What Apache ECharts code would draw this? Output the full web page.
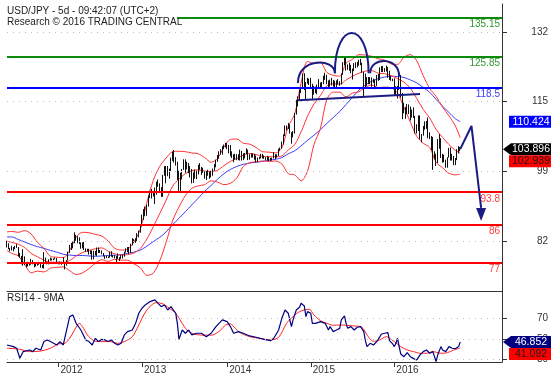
<!DOCTYPE html>
<html><head><meta charset="utf-8">
<script src="https://cdn.jsdelivr.net/npm/echarts@6/dist/echarts.min.js"></script>
<style>html,body{margin:0;padding:0;background:#fff}#c{width:558px;height:378px}</style>
</head><body><div id="c"></div>
<script>
// ---- weekly OHLC [open, high, low, close] ----
const ohlc2011 = [[81.7,82.2,80.6,80.8],[80.8,81.6,80.2,80.4],[80.4,80.5,79.7,80.2],[80.2,81.0,79.9,80.0],[80.0,80.7,79.7,80.4],[80.4,81.0,80.2,80.8],[80.8,81.4,80.5,80.6],[80.6,80.7,78.5,79.1],[79.1,79.3,78.2,78.4],[78.4,78.6,76.6,76.8],[76.8,80.2,76.3,78.4],[78.4,78.5,76.4,76.9],[76.9,77.0,75.9,76.5],[76.5,77.2,76.1,76.6],[76.6,77.1,76.3,76.8],[76.8,77.9,76.5,77.6],[77.6,77.6,76.6,76.8],[76.8,76.9,75.9,76.5],[76.5,77.1,76.1,77.0],[77.0,77.1,76.3,76.7],[76.7,77.2,76.5,76.9],[76.9,77.0,75.8,76.1],[76.1,76.5,75.7,75.8],[75.8,79.5,75.6,78.0],[78.0,78.2,77.0,77.0],[77.0,77.2,76.6,76.9],[76.9,77.8,76.6,77.7],[77.7,78.2,77.5,77.9],[77.9,78.0,77.5,77.7],[77.7,78.0,77.6,77.8],[77.8,78.2,77.8,78.1],[78.1,78.1,76.9,76.9]];
const ohlc2012 = [[76.9,77.2,76.6,76.8],[76.8,77.3,76.6,76.9],[76.9,77.2,76.5,76.9],[76.9,78.3,76.7,77.0],[77.0,77.0,75.4,76.6],[76.6,77.6,76.3,77.6],[77.6,79.6,77.5,79.5],[79.5,81.2,79.3,81.2],[81.2,81.7,80.0,81.1],[81.1,82.0,80.4,81.8],[81.8,84.2,81.6,83.4],[83.4,83.6,82.2,82.4],[82.4,83.3,81.6,82.9],[82.9,83.0,81.4,81.5],[81.5,81.8,80.3,80.9],[80.9,81.8,80.4,81.6],[81.6,81.9,80.0,80.3],[80.3,80.4,79.6,79.8],[79.8,80.3,79.6,79.9],[79.9,80.3,78.9,79.1],[79.1,79.9,79.0,79.6],[79.6,79.9,77.7,78.2],[78.2,79.8,77.8,79.6],[79.6,79.8,78.7,78.7],[78.7,80.6,78.6,80.4],[80.4,80.6,79.3,79.8],[79.8,80.0,79.3,79.6],[79.6,79.9,79.0,79.1],[79.1,79.3,78.5,78.5],[78.5,78.7,77.9,78.4],[78.4,78.6,78.1,78.3],[78.3,78.5,78.1,78.3],[78.3,79.6,78.2,79.5],[79.5,79.7,78.4,78.7],[78.7,78.8,78.2,78.3],[78.3,78.8,78.0,78.2],[78.2,78.6,77.1,78.4],[78.4,79.2,77.9,78.2],[78.2,78.3,77.4,77.9],[77.9,78.8,77.9,78.7],[78.7,78.9,78.0,78.7],[78.7,79.6,78.4,79.5],[79.5,80.4,79.4,79.9],[79.9,80.7,79.5,80.4],[80.4,80.7,79.1,79.5],[79.5,81.5,79.3,81.3],[81.3,82.8,81.1,82.4],[82.4,82.6,81.7,82.5],[82.5,82.8,81.7,82.4],[82.4,84.0,82.1,83.5],[83.5,84.6,83.0,84.2],[84.2,86.1,84.1,85.9],[85.9,88.4,85.6,88.1]];
const ohlc2013 = [[88.1,89.7,87.1,89.2],[89.2,90.3,88.0,90.1],[90.1,90.7,88.1,90.8],[90.8,92.9,90.3,92.7],[92.7,94.1,92.3,92.7],[92.7,94.5,92.2,93.5],[93.5,94.0,92.7,93.4],[93.4,94.8,90.9,93.6],[93.6,96.2,93.1,96.0],[96.0,96.7,95.0,95.3],[95.3,95.8,93.9,94.5],[94.5,94.9,92.6,94.2],[94.2,97.8,92.6,97.6],[97.6,99.9,97.6,98.4],[98.4,99.9,95.8,99.5],[99.5,99.9,97.5,98.0],[98.0,99.3,96.9,99.0],[99.0,101.9,98.7,101.6],[101.6,103.3,101.1,103.2],[103.2,103.7,100.7,101.0],[101.0,102.0,100.0,100.5],[100.5,100.9,96.6,97.5],[97.5,98.8,93.8,94.1],[94.1,98.3,93.9,97.9],[97.9,99.2,96.7,99.1],[99.1,101.5,99.0,101.2],[101.2,101.5,98.3,99.2],[99.2,100.9,99.1,100.6],[100.6,100.6,98.2,98.3],[98.3,99.9,97.2,98.9],[98.9,99.2,95.8,96.2],[96.2,98.4,95.9,97.5],[97.5,99.1,96.9,98.7],[98.7,98.8,96.8,98.1],[98.1,100.2,97.9,99.8],[99.8,100.6,99.0,99.4],[99.4,99.7,97.8,99.4],[99.4,99.5,98.3,98.3],[98.3,98.6,96.9,97.5],[97.5,98.7,96.6,98.6],[98.6,99.0,97.6,97.7],[97.7,98.5,96.9,97.4],[97.4,98.8,97.2,98.8],[98.8,99.3,97.6,99.1],[99.1,100.4,98.8,100.0],[100.0,101.4,99.6,101.3],[101.3,102.5,100.9,102.4],[102.4,103.4,101.6,102.9],[102.9,103.9,102.6,103.2],[103.2,104.6,102.6,104.1],[104.1,105.0,103.9,104.8],[104.8,105.4,104.3,104.9]];
const ohlc2014 = [[104.9,105.4,103.9,104.2],[104.2,104.9,102.9,104.3],[104.3,104.9,102.2,102.3],[102.3,103.4,101.8,102.0],[102.0,102.7,100.8,102.3],[102.3,102.8,101.4,101.8],[101.8,102.7,101.3,102.5],[102.5,102.7,101.3,101.8],[101.8,103.8,101.2,103.3],[103.3,103.5,101.2,101.3],[101.3,102.9,101.3,102.3],[102.3,103.0,101.7,102.8],[102.8,104.1,102.7,103.3],[103.3,103.8,101.3,101.6],[101.6,102.7,101.4,102.4],[102.4,102.9,101.9,102.2],[102.2,102.9,101.9,102.6],[102.6,102.8,101.4,101.8],[101.8,102.4,100.8,101.5],[101.5,101.9,100.8,102.0],[102.0,102.1,101.5,101.8],[101.8,102.8,101.7,102.5],[102.5,102.8,101.7,102.0],[102.0,102.4,101.6,102.0],[102.0,102.0,101.3,101.4],[101.4,102.3,101.2,102.1],[102.1,102.1,101.1,101.3],[101.3,101.8,101.1,101.3],[101.3,101.9,101.2,101.8],[101.8,103.2,101.7,102.6],[102.6,102.7,101.5,102.0],[102.0,102.7,101.9,102.4],[102.4,104.0,102.3,103.8],[103.8,104.3,103.5,104.1],[104.1,105.7,104.0,105.1],[105.1,107.4,105.0,107.3],[107.3,109.5,107.0,109.0],[109.0,109.5,108.3,109.3],[109.3,110.1,108.7,109.7],[109.7,109.8,107.6,107.6],[107.6,107.9,105.2,106.9],[106.9,108.2,106.7,108.1],[108.1,112.5,107.6,112.3],[112.3,115.6,112.1,114.6],[114.6,116.4,114.0,116.3],[116.3,118.0,115.5,117.8],[117.8,118.6,117.2,118.6],[118.6,121.8,118.4,121.4],[121.4,121.9,117.9,118.8],[118.8,119.8,115.6,119.5],[119.5,120.8,119.4,120.5],[120.5,120.6,119.1,120.4]];
const ohlc2015 = [[120.4,120.8,118.3,118.6],[118.6,119.4,115.8,117.5],[117.5,118.9,116.8,117.7],[117.7,118.7,117.2,117.5],[117.5,119.2,116.9,119.1],[119.1,120.5,118.3,118.7],[118.7,119.7,118.2,119.0],[119.0,119.8,118.5,119.6],[119.6,121.3,119.3,120.8],[120.8,122.0,120.3,121.4],[121.4,121.5,119.3,120.0],[120.0,120.2,118.3,119.2],[119.2,120.4,118.7,119.1],[119.1,120.8,119.0,120.2],[120.2,120.3,118.7,118.9],[118.9,120.1,118.6,119.0],[119.0,120.2,118.5,120.2],[120.2,120.5,119.2,119.8],[119.8,120.0,118.9,119.4],[119.4,121.8,119.2,121.5],[121.5,124.5,121.5,124.1],[124.1,125.9,123.8,125.6],[125.6,125.7,122.5,123.4],[123.4,124.0,122.7,122.7],[122.7,124.4,122.5,123.9],[123.9,123.9,121.9,122.8],[122.8,123.0,120.4,122.7],[122.7,124.3,122.4,124.0],[124.0,124.5,123.1,123.8],[123.8,124.6,123.3,123.9],[123.9,125.1,123.7,124.2],[124.2,125.3,123.8,124.3],[124.3,124.4,122.0,122.0],[122.0,122.2,116.2,121.7],[121.7,121.8,118.6,119.0],[119.0,121.0,118.9,120.6],[120.6,121.0,119.3,120.0],[120.0,121.0,119.3,120.6],[120.6,120.9,118.7,119.9],[119.9,120.6,119.6,120.2],[120.2,120.4,118.1,119.0],[119.0,121.5,118.9,121.4],[121.4,121.7,120.1,120.6],[120.6,123.3,120.3,123.2],[123.2,123.6,122.2,122.6],[122.6,123.6,122.2,122.8],[122.8,123.1,122.2,122.8],[122.8,123.7,122.3,123.1],[123.1,123.4,120.8,120.9],[120.9,122.5,120.3,121.2],[121.2,121.3,120.1,120.3],[120.3,120.6,120.0,120.2]];
const ohlc2016 = [[120.2,120.7,116.7,117.2],[117.2,118.8,116.5,117.0],[117.0,118.9,115.9,118.8],[118.8,121.7,117.9,121.1],[121.1,121.5,116.1,116.8],[116.8,117.2,111.0,113.2],[113.2,114.9,112.4,112.6],[112.6,113.9,111.1,113.9],[113.9,114.6,112.2,113.8],[113.8,114.5,112.2,113.8],[113.8,114.0,110.7,111.5],[111.5,113.3,111.4,113.0],[113.0,113.8,111.3,111.6],[111.6,111.8,107.6,108.1],[108.1,109.8,107.6,108.8],[108.8,111.9,108.2,111.8],[111.8,111.9,106.2,106.3],[106.3,107.5,105.5,107.1],[107.1,109.4,107.1,108.6],[108.6,110.5,108.5,110.2],[110.2,110.6,108.7,110.2],[110.2,111.4,106.5,106.5],[106.5,107.9,106.3,107.0],[107.0,107.0,103.6,104.2],[104.2,106.8,99.0,102.2],[102.2,103.4,101.5,102.5],[102.5,102.8,99.9,100.6],[100.6,106.3,100.6,104.9],[104.9,107.5,104.0,106.1],[106.1,106.5,101.8,102.0],[102.0,102.8,100.7,101.8],[101.8,102.6,100.8,101.3],[101.3,101.4,99.5,100.2],[100.2,102.0,99.5,101.9],[101.9,104.2,101.9,104.0],[104.0,104.3,101.2,102.6],[102.6,102.8,101.2,102.2],[102.2,102.3,100.1,101.0],[101.0,101.8,100.1,101.3],[101.3,103.9,101.3,102.9],[102.9,104.6,102.9,104.2],[104.2,104.4,103.4,103.896]];

// ---- indicator lines, [weekIndex, value] ----
const sma20 = [[0,82.1],[3,81.8],[7,81.4],[11,80.6],[15,79.2],[19,78.4],[23,77.6],[27,77.1],[31,77.1],[35,77.1],[39,77.5],[43,78.6],[47,79.4],[51,79.9],[55,80.3],[59,80.5],[63,79.7],[67,79.1],[71,78.8],[75,78.9],[79,79.3],[83,80.4],[87,82.6],[91,85.5],[95,88.6],[99,91.8],[103,95.1],[107,96.8],[111,98.1],[115,98.8],[119,99.0],[123,98.7],[127,98.6],[131,98.9],[135,100.0],[139,101.0],[143,101.7],[147,102.5],[151,102.9],[155,102.6],[159,102.2],[163,102.1],[167,102.1],[171,102.3],[175,103.7],[179,105.0],[183,108.0],[187,111.7],[191,114.6],[195,116.6],[199,118.9],[203,119.4],[207,119.3],[211,120.3],[215,121.2],[219,121.9],[223,122.4],[227,122.5],[231,121.9],[235,121.8],[239,121.3],[243,120.6],[247,119.8],[251,118.3],[255,115.9],[259,113.3],[263,111.3],[267,108.6],[271,106.7],[275,105.0],[279,103.6],[282,102.939]];
const bbUpper = [[0,84.3],[3,84.4],[7,84.2],[11,84.6],[15,83.8],[19,81.8],[23,80.4],[27,78.5],[31,78.3],[35,78.2],[39,79.9],[43,83.0],[47,84.2],[51,84.1],[55,83.7],[59,83.3],[63,82.1],[67,80.4],[71,80.0],[75,80.2],[79,81.9],[83,85.0],[87,91.2],[91,96.5],[95,99.8],[99,101.8],[103,103.3],[107,103.4],[111,103.3],[115,103.0],[119,102.8],[123,101.9],[127,100.8],[131,101.7],[135,104.4],[139,106.2],[143,106.3],[147,105.3],[151,105.1],[155,104.3],[159,103.3],[163,103.2],[167,103.0],[171,104.2],[175,109.3],[179,112.2],[183,119.6],[187,124.7],[191,124.2],[195,124.4],[199,122.1],[203,121.4],[207,121.2],[211,124.3],[215,125.2],[219,126.3],[223,126.2],[227,125.9],[231,125.3],[235,125.0],[239,124.1],[243,124.0],[247,125.7],[251,126.3],[255,124.8],[259,121.3],[263,118.3],[267,116.4],[271,113.9],[275,111.8],[279,109.4],[282,106.6]];
const bbLower = [[0,79.9],[3,79.2],[7,78.6],[11,76.6],[15,74.6],[19,75.0],[23,74.8],[27,75.7],[31,75.9],[35,76.0],[39,75.1],[43,74.2],[47,74.6],[51,75.6],[55,76.9],[59,77.7],[63,77.3],[67,77.8],[71,77.6],[75,77.6],[79,76.7],[83,75.8],[87,74.0],[91,74.5],[95,77.4],[99,81.8],[103,86.9],[107,90.2],[111,92.9],[115,94.6],[119,95.2],[123,95.5],[127,96.4],[131,96.1],[135,95.5],[139,95.8],[143,97.1],[147,99.8],[151,100.7],[155,100.9],[159,101.1],[163,101.0],[167,101.1],[171,100.4],[175,98.1],[179,97.8],[183,96.4],[187,98.7],[191,105.0],[195,108.8],[199,115.7],[203,117.4],[207,117.4],[211,116.3],[215,117.2],[219,117.5],[223,118.6],[227,119.1],[231,118.5],[235,118.6],[239,118.5],[243,117.2],[247,113.8],[251,110.3],[255,106.9],[259,105.3],[263,104.3],[267,100.8],[271,99.5],[275,98.2],[279,97.8],[282,98.0]];
const sma50 = [[0,83.1],[3,83.1],[7,82.5],[11,81.9],[15,81.3],[19,80.8],[23,80.4],[27,79.9],[31,79.5],[35,79.0],[39,78.8],[43,78.7],[47,78.7],[51,78.6],[55,78.5],[59,78.6],[63,78.7],[67,78.8],[71,78.9],[75,79.2],[79,79.5],[83,80.0],[87,80.9],[91,82.0],[95,83.0],[99,84.3],[103,86.0],[107,87.5],[111,89.1],[115,90.7],[119,92.3],[123,93.9],[127,95.3],[131,96.8],[135,98.1],[139,99.1],[143,99.8],[147,100.3],[151,100.6],[155,100.8],[159,101.0],[163,101.3],[167,101.5],[171,101.9],[175,102.8],[179,103.5],[183,104.7],[187,106.0],[191,107.2],[195,108.5],[199,110.0],[203,111.4],[207,112.8],[211,114.5],[215,116.2],[219,117.9],[223,119.1],[227,120.0],[231,120.6],[235,121.0],[239,121.2],[243,121.1],[247,120.9],[251,120.3],[255,119.6],[259,118.5],[263,117.4],[267,115.7],[271,114.1],[275,112.6],[279,111.1],[282,110.424]];
const rsi14 = [[0,44.0],[4,42.4],[6,40.8],[8,31.0],[10,37.5],[14,39.1],[16,37.5],[18,40.8],[21,39.1],[23,47.3],[25,48.9],[27,47.3],[29,45.6],[31,44.0],[33,47.3],[35,44.0],[36,45.6],[39,71.6],[41,73.2],[43,65.1],[46,58.6],[49,48.9],[51,47.3],[53,44.0],[55,50.5],[57,47.3],[59,49.5],[61,48.9],[63,47.3],[65,48.9],[67,45.6],[69,44.0],[71,45.6],[73,53.8],[75,57.0],[78,58.6],[80,65.1],[82,74.9],[84,79.8],[86,83.0],[89,86.3],[92,87.9],[94,84.6],[96,81.4],[98,83.0],[100,78.1],[102,81.4],[105,74.9],[106,65.1],[107,49.5],[109,58.6],[111,55.4],[113,58.6],[115,53.8],[118,55.4],[121,55.4],[124,52.1],[127,55.4],[130,61.9],[134,68.4],[137,66.7],[139,61.9],[141,55.4],[144,57.0],[147,55.4],[151,52.8],[155,51.5],[160,49.5],[164,48.2],[166,50.5],[169,58.6],[171,70.0],[173,78.1],[175,74.9],[177,61.9],[178,68.4],[180,78.1],[182,80.7],[183,84.6],[185,82.0],[186,71.6],[187,76.5],[189,74.9],[190,65.1],[192,65.1],[195,66.7],[198,65.1],[200,58.6],[201,61.9],[203,57.0],[205,58.6],[207,60.2],[208,68.4],[210,72.3],[211,65.1],[212,60.2],[214,61.9],[216,58.6],[218,61.3],[220,61.9],[222,57.0],[223,48.2],[224,42.4],[226,45.6],[228,44.0],[230,47.3],[231,49.5],[233,54.7],[235,55.4],[237,56.0],[238,48.2],[240,45.0],[241,42.4],[242,45.6],[243,50.5],[244,42.4],[245,35.2],[247,32.6],[249,36.5],[251,32.6],[253,30.7],[255,29.4],[257,34.3],[259,37.5],[261,39.1],[263,35.9],[265,37.5],[267,27.7],[268,34.3],[270,42.4],[271,39.1],[273,37.5],[275,42.4],[277,40.8],[279,40.4],[281,42.4],[282,46.852]];
const rsiMa9 = [[0,40.8],[8,39.8],[14,37.5],[21,38.1],[27,40.8],[32,45.0],[36,45.6],[39,50.5],[42,58.6],[45,65.1],[47,61.9],[50,53.8],[54,48.2],[58,47.3],[64,47.3],[69,45.6],[73,47.3],[78,52.1],[81,60.2],[84,70.0],[87,78.1],[90,83.0],[93,85.3],[97,84.0],[101,79.8],[105,74.9],[109,65.1],[112,58.6],[116,54.7],[120,53.8],[124,53.5],[128,53.8],[133,58.6],[136,63.5],[139,64.5],[142,60.2],[145,56.0],[151,52.1],[157,50.5],[164,48.9],[169,51.5],[174,65.1],[178,71.6],[182,76.5],[188,78.8],[191,73.2],[195,67.7],[199,65.1],[203,63.2],[207,63.5],[211,63.2],[216,62.5],[220,61.9],[222,59.3],[224,53.8],[228,47.6],[232,48.9],[236,52.1],[238,50.5],[241,47.3],[245,42.4],[249,39.1],[253,37.5],[257,35.9],[261,35.9],[265,37.5],[270,35.9],[274,36.5],[278,39.1],[282,41.092]];

// ---- levels, ticks, annotations ----
const levels = [
  {value:135.15, label:'135.15', line:'#0b8a0b', text:'#2f9a2f', startWeek:106},
  {value:125.85, label:'125.85', line:'#0b8a0b', text:'#2f9a2f'},
  {value:118.5,  label:'118.5',  line:'#0000ff', text:'#3c3cff'},
  {value:93.8,   label:'93.8',   line:'#ff0000', text:'#ff4040'},
  {value:86,     label:'86',     line:'#ff0000', text:'#ff4040'},
  {value:77,     label:'77',     line:'#ff0000', text:'#ff4040'}
];
const priceTicks = [82.17, 98.67, 115.17, 131.67];
const rsiTicks = [30, 50, 70];
const yearTicks = [[32,'2012'],[84,'2013'],[137,'2014'],[189,'2015'],[241,'2016']];
const neckline = [[181,115.5],[257,117.0]];
const hsArcs = [[181,119.6,204,121.9,124.4],[204,121.9,225,121.9,131.4],[226,121.9,244,121.2,124.8]];
const projection = [[282,103.896],[289,109.4],[295,90.0]];
const arrowTip = [295, 88.4];
const priceTags = [
  {panel:0, value:110.424, text:'110.424', bg:'#0000ff', fg:'#ffffff', arrow:false},
  {panel:0, value:103.896, text:'103.896', bg:'#000000', fg:'#ffffff', arrow:true},
  {panel:0, value:102.939, text:'102.939', bg:'#ff0000', fg:'#1a1a1a', arrow:false},
  {panel:1, value:46.852, text:'46.852', bg:'#000080', fg:'#ffffff', arrow:true},
  {panel:1, value:41.092, text:'41.092', bg:'#ff0000', fg:'#1a1a1a', arrow:false}
];

const weekCount = 309;
const categories = Array.from({length: weekCount}, (_, i) => String(i));
const yearMap = {}; yearTicks.forEach(t => { yearMap[String(t[0])] = t[1]; });
const isYear = (i) => yearMap[String(i)] !== undefined;
const ohlc = [].concat(ohlc2011, ohlc2012, ohlc2013, ohlc2014, ohlc2015, ohlc2016);
const candleData = ohlc.map(r => [r[0], r[3], r[2], r[1]]);
const FONT = 'Liberation Sans, Arial, sans-serif';
const NAVY = '#1b1b84';
const AX = '#333333';

const chart = echarts.init(document.getElementById('c'), null, {renderer:'canvas'});

const levelLines = levels.map(l => {
  const lab = {show:true, formatter:l.label, position:'insideEndBottom', color:l.text, fontSize:10, fontFamily:FONT, distance:[2,2]};
  const ls = {color:l.line, width:2, type:'solid'};
  if (l.startWeek !== undefined) {
    return [{coord:[l.startWeek, l.value], lineStyle:ls, label:lab}, {coord:[weekCount-1, l.value]}];
  }
  return {yAxis:l.value, lineStyle:ls, label:lab};
});

function line(name, data, color, width, xi, yi, smooth, z, extra) {
  return Object.assign({type:'line', name, data, xAxisIndex:xi, yAxisIndex:yi, symbol:'none', showSymbol:false,
    smooth:smooth, lineStyle:{color, width}, itemStyle:{color}, silent:true, z:z, animation:false}, extra || {});
}

const option = {
  animation:false,
  textStyle:{fontFamily:FONT},
  grid:[{left:7, right:56, top:4, height:287}, {left:7, right:56, top:291, height:71}],
  xAxis:[
    {type:'category', gridIndex:0, data:categories, boundaryGap:false, show:false},
    {type:'category', gridIndex:1, data:categories, boundaryGap:false, position:'bottom',
      axisLine:{show:true, lineStyle:{color:AX, width:1}},
      axisTick:{show:true, interval:(i)=>isYear(i), length:5, lineStyle:{color:AX}},
      axisLabel:{show:true, interval:(i)=>isYear(i), formatter:(v)=>yearMap[v]||'', align:'left', margin:3, padding:[0,0,0,2], fontSize:10, color:AX, fontFamily:FONT},
      splitLine:{show:false}},
    {type:'category', gridIndex:1, data:categories, boundaryGap:false, position:'top',
      axisLine:{show:true, lineStyle:{color:AX, width:1}}, axisTick:{show:false}, axisLabel:{show:false}, splitLine:{show:false}}
  ],
  yAxis:[
    {type:'value', gridIndex:0, position:'right', min:70.29, max:138.30,
      axisLine:{show:true, lineStyle:{color:AX}},
      axisTick:{show:true, length:5, customValues:priceTicks, lineStyle:{color:AX}},
      axisLabel:{show:true, customValues:priceTicks, formatter:(v)=>String(Math.round(v)), align:'right', margin:46, fontSize:10, color:AX, fontFamily:FONT},
      splitLine:{show:false}},
    {type:'value', gridIndex:1, position:'right', min:27.4, max:96.6,
      axisLine:{show:true, lineStyle:{color:AX}},
      axisTick:{show:true, length:5, customValues:rsiTicks, lineStyle:{color:AX}},
      axisLabel:{show:true, customValues:rsiTicks, formatter:(v)=>String(Math.round(v)), align:'right', margin:46, fontSize:10, color:AX, fontFamily:FONT},
      splitLine:{show:false}}
  ],
  series:[
    line('SMA50', sma50, '#3b3bff', 1, 0, 0, 0.3, 2, {
      markLine:{silent:true, symbol:['none','none'], animation:false, label:{show:false},
        lineStyle:{color:'#bdbdbd', width:1, type:[1,5]},
        data: priceTicks.map(v => ({yAxis:v}))}
    }),
    line('BB upper', bbUpper, '#ff3030', 1, 0, 0, 0.3, 3),
    line('BB lower', bbLower, '#ff3030', 1, 0, 0, 0.3, 3),
    line('SMA20', sma20, '#ff3030', 1, 0, 0, 0.3, 3),
    {type:'candlestick', name:'USD/JPY', xAxisIndex:0, yAxisIndex:0, data:candleData, barWidth:1.3, z:4, silent:true, animation:false,
      itemStyle:{color:'#7a7a7a', color0:'#1a1a1a', borderColor:'#111', borderColor0:'#111', borderWidth:1},
      markLine:{silent:true, symbol:['none','none'], animation:false, data:levelLines}},
    line('Neckline', neckline, NAVY, 2, 0, 0, false, 6),
    line('Projection', projection, NAVY, 2, 0, 0, false, 6, {
      markPoint:{silent:true, animation:false, label:{show:false},
        data:[{coord:arrowTip, symbol:'triangle', symbolSize:[10,13], symbolRotate:180, itemStyle:{color:NAVY}}]}
    }),
    line('RSI14', rsi14, '#000080', 1.2, 1, 1, false, 4, {
      markLine:{silent:true, symbol:['none','none'], animation:false, label:{show:false},
        lineStyle:{color:'#bdbdbd', width:1, type:[1,5]},
        data: rsiTicks.map(v => ({yAxis:v}))}
    }),
    line('9MA', rsiMa9, '#ff2020', 1, 1, 1, 0.3, 3)
  ]
};
chart.setOption(option);

// ---- graphic overlay: texts, head & shoulders arcs, price tags ----
const px = (i, v) => chart.convertToPixel({xAxisIndex:0, yAxisIndex:0}, [i, v]);
const pr = (i, v) => chart.convertToPixel({xAxisIndex:1, yAxisIndex:1}, [i, v]);
const g = [];
g.push({type:'text', x:7, y:6, style:{text:'USD/JPY - 5d - 09:42:07 (UTC+2)', fontSize:10, fontFamily:FONT, fill:'#222'}, z:100});
g.push({type:'text', x:7, y:17, style:{text:'Research \u00a9 2016 TRADING CENTRAL', fontSize:10, fontFamily:FONT, fill:'#222'}, z:100});
g.push({type:'text', x:7, y:293, style:{text:'RSI14 - 9MA', fontSize:10, fontFamily:FONT, fill:'#222'}, z:100});

hsArcs.forEach(a => {
  const p1 = px(a[0], a[1]), p2 = px(a[2], a[3]), top = px((a[0]+a[2])/2, a[4]);
  const c = (8*top[1] - p1[1] - p2[1]) / 6;
  g.push({type:'bezierCurve', shape:{x1:p1[0], y1:p1[1], cpx1:p1[0], cpy1:c, cpx2:p2[0], cpy2:c, x2:p2[0], y2:p2[1]},
    style:{stroke:NAVY, lineWidth:2, fill:null}, z:60, silent:true});
});

const axisX = px(weekCount-1, 100)[0];
const lastY = [-1e9, -1e9];
priceTags.forEach(t => {
  let cy = (t.panel === 0 ? px(0, t.value) : pr(0, t.value))[1];
  if (cy < lastY[t.panel] + 12) cy = lastY[t.panel] + 12;
  lastY[t.panel] = cy;
  const h = 6, x0 = axisX + 7, x1 = axisX + 49;
  if (t.arrow) {
    g.push({type:'polygon', shape:{points:[[axisX+1, cy],[x0+2, cy-h],[x1, cy-h],[x1, cy+h],[x0+2, cy+h]]}, style:{fill:t.bg}, z:110, silent:true});
  } else {
    g.push({type:'rect', shape:{x:x0, y:cy-h, width:x1-x0, height:2*h}, style:{fill:t.bg}, z:110, silent:true});
  }
  g.push({type:'text', x:(x0+x1)/2 + 1, y:cy, style:{text:t.text, align:'center', verticalAlign:'middle', fontSize:10.5, fontFamily:FONT, fill:t.fg}, z:111, silent:true});
});
chart.setOption({graphic:g});
</script>
</body></html>
